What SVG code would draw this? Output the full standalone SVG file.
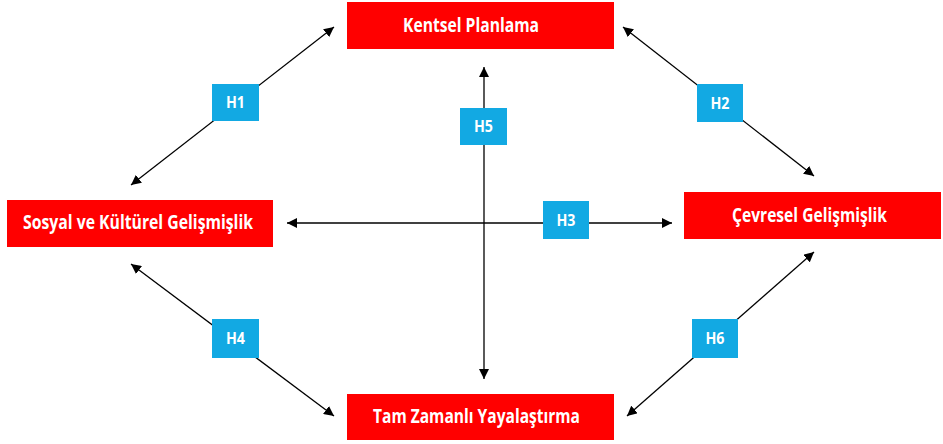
<svg xmlns="http://www.w3.org/2000/svg" width="943" height="444" viewBox="0 0 943 444">
<style>
.box{fill:#FF0000}
.hb{fill:#12A9E3}
.t{font-family:"Open Sans","Liberation Sans",sans-serif;font-weight:bold;fill:#fff;font-size:19px;text-anchor:middle}
.h{font-family:"Open Sans","Liberation Sans",sans-serif;font-weight:bold;fill:#fff;font-size:16px;text-anchor:middle}
.c{stroke:#000;stroke-width:1.3;fill:none;marker-start:url(#a);marker-end:url(#a)}
</style>
<defs>
<marker id="a" viewBox="0 0 10 10" refX="10" refY="5" markerWidth="10" markerHeight="10" markerUnits="userSpaceOnUse" orient="auto-start-reverse">
<path d="M0,0 L10,5 L0,10 Z" fill="#000"/>
</marker>
</defs>
<rect width="943" height="444" fill="#fff"/>
<g id="connectors">
<line class="c" x1="131" y1="185" x2="334" y2="27"/>
<line class="c" x1="623" y1="27" x2="814" y2="176"/>
<line class="c" x1="287" y1="223" x2="672" y2="223"/>
<line class="c" x1="484" y1="67" x2="484" y2="379"/>
<line class="c" x1="131" y1="264" x2="334" y2="416"/>
<line class="c" x1="627" y1="416" x2="814" y2="252"/>
</g>
<g id="kentsel">
<rect class="box" x="347" y="2" width="267" height="47"/>
<text class="t" x="471" y="32" textLength="136" lengthAdjust="spacingAndGlyphs">Kentsel Planlama</text>
</g>
<g id="sosyal">
<rect class="box" x="7" y="200" width="266" height="47"/>
<text class="t" x="138" y="229" textLength="230" lengthAdjust="spacingAndGlyphs">Sosyal ve  Kültürel Gelişmişlik</text>
</g>
<g id="cevresel">
<rect class="box" x="684" y="192" width="257" height="47"/>
<text class="t" x="809.5" y="222" textLength="155" lengthAdjust="spacingAndGlyphs">Çevresel Gelişmişlik</text>
</g>
<g id="tam">
<rect class="box" x="347" y="394" width="267" height="46"/>
<text class="t" x="476.5" y="423" textLength="207" lengthAdjust="spacingAndGlyphs">Tam Zamanlı Yayalaştırma</text>
</g>
<g id="h1"><rect class="hb" x="212" y="84" width="47" height="37"/><text class="h" x="235.5" y="108" textLength="19" lengthAdjust="spacingAndGlyphs">H1</text></g>
<g id="h2"><rect class="hb" x="697" y="84" width="46" height="38"/><text class="h" x="720" y="109" textLength="19" lengthAdjust="spacingAndGlyphs">H2</text></g>
<g id="h3"><rect class="hb" x="543" y="201" width="46" height="38"/><text class="h" x="566" y="226" textLength="19" lengthAdjust="spacingAndGlyphs">H3</text></g>
<g id="h4"><rect class="hb" x="212" y="319" width="47" height="39"/><text class="h" x="235.5" y="344" textLength="19" lengthAdjust="spacingAndGlyphs">H4</text></g>
<g id="h5"><rect class="hb" x="460" y="108" width="47" height="37"/><text class="h" x="483.5" y="132" textLength="19" lengthAdjust="spacingAndGlyphs">H5</text></g>
<g id="h6"><rect class="hb" x="692" y="319" width="46" height="39"/><text class="h" x="715" y="344" textLength="19" lengthAdjust="spacingAndGlyphs">H6</text></g>
</svg>
